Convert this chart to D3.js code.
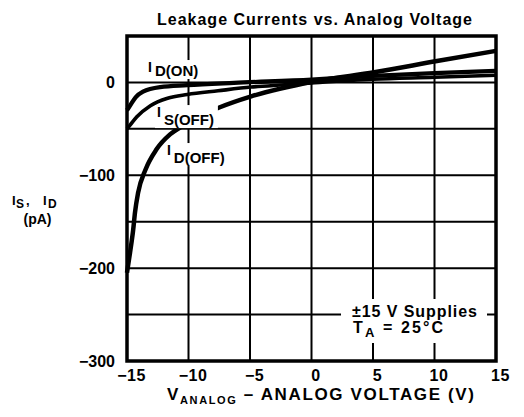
<!DOCTYPE html>
<html>
<head>
<meta charset="utf-8">
<script src="https://cdn.jsdelivr.net/npm/d3@7"></script>
<style>
  html, body { margin: 0; padding: 0; background: #fff; }
  svg { display: block; }
  text { font-family: "Liberation Sans", Arial, Helvetica, sans-serif; font-weight: bold; fill: #000; }
</style>
</head>
<body>
<svg id="chart" width="524" height="417"></svg>
<script>
// ---- data ----
const xTicks = [-15, -10, -5, 0, 5, 10, 15];
const yTicks = [-300, -200, -100, 0];
const yGrid = [-250, -200, -150, -100, -50, 0];

const idOnV  = [-15, -14.75, -14.3, -13.7, -12.3, -10.1, -6.3, 0, 5, 10, 15];
const idOnI  = [-30, -25, -16, -10, -5, -3, -0.5, 3, 7, 10, 12.5];

const isOffV = [-15, -14.75, -14.2, -13.1, -11.7, -10.1, -7.6, -4.9, -2.2, 0, 5, 10, 15];
const isOffI = [-50, -46, -37, -25, -17, -13, -9, -5, -2.5, -0.5, 3.5, 5.5, 7.8];

const idOffV = [-15, -14.75, -14.5, -14.35, -14.1, -13.5, -12.6, -11.5, -10.5, -9, -7.5, -4.9, 0.2, 5.1, 10.2, 15];
const idOffI = [-205, -183, -159, -140, -119, -94, -72, -56, -47, -36, -27, -15, 1, 11, 23, 34];

const curveLabels = [
  { x: -13.29, y: 11.2,  main: "I", sub: "D(ON)",  dy: 4 },
  { x: -12.56, y: -37.3, main: "I", sub: "S(OFF)", dy: 8 },
  { x: -11.75, y: -78.2, main: "I", sub: "D(OFF)", dy: 8 }
];

(function () {
const svg = d3.select("#chart");
const pl = 127, pr = 496, pt = 36, pb = 361;
const x = d3.scaleLinear().domain([-15, 15]).range([pl, pr]);
const y = d3.scaleLinear().domain([-300, 50]).range([pb, pt]);

// grid
const grid = svg.append("g");
grid.selectAll("line.v").data(xTicks.slice(1, -1)).join("line").attr("class", "v")
  .attr("x1", d => x(d)).attr("x2", d => x(d))
  .attr("y1", pt).attr("y2", pb)
  .attr("stroke", "#000").attr("stroke-width", 2);
grid.selectAll("line.h").data(yGrid).join("line").attr("class", "h")
  .attr("x1", pl).attr("x2", pr)
  .attr("y1", d => y(d)).attr("y2", d => y(d))
  .attr("stroke", "#000").attr("stroke-width", 2);

// curves
const line = d3.line().x(d => x(d[0])).y(d => y(d[1])).curve(d3.curveMonotoneX);
const zip = (a, b) => a.map((v, i) => [v, b[i]]);
const curves = [
  { v: idOnV, i: idOnI, w: 4.3 },
  { v: isOffV, i: isOffI, w: 3.6 },
  { v: idOffV, i: idOffI, w: 4.5 }
];
svg.append("g").selectAll("path").data(curves).join("path")
  .attr("d", d => line(zip(d.v, d.i)))
  .attr("fill", "none").attr("stroke", "#000")
  .attr("stroke-width", d => d.w).attr("stroke-linecap", "butt");

// curve labels with white background
const labels = svg.append("g");
curveLabels.forEach(d => {
  const g = labels.append("g");
  const bg = g.append("rect").attr("fill", "#fff");
  const t = g.append("text").attr("x", x(d.x)).attr("y", y(d.y)).style("font-size", "14px");
  t.append("tspan").text(d.main);
  t.append("tspan").attr("dx", 3).attr("dy", d.dy).style("font-size", "15px").text(d.sub);
  const bb = t.node().getBBox();
  bg.attr("x", bb.x - 2).attr("y", bb.y + 1).attr("width", bb.width + 6).attr("height", bb.height - 1);
});

// annotation box
const ann = svg.append("g");
ann.append("rect").attr("fill", "#fff").attr("x", 341).attr("y", 299).attr("width", 146).attr("height", 44);
ann.append("text").attr("x", 352).attr("y", 317).style("font-size", "16px")
  .attr("textLength", 125).attr("lengthAdjust", "spacing").text("±15 V Supplies");
const ta = ann.append("text").attr("x", 353).attr("y", 333).style("font-size", "16px")
  .attr("textLength", 90).attr("lengthAdjust", "spacing");
ta.append("tspan").text("T");
ta.append("tspan").attr("dy", 4).style("font-size", "13px").text("A");
ta.append("tspan").attr("dy", -4).text(" = 25°C");

// frame
svg.append("rect").attr("x", pl).attr("y", pt)
  .attr("width", pr - pl).attr("height", pb - pt)
  .attr("fill", "none").attr("stroke", "#000").attr("stroke-width", 3.5);

// axes tick labels
const fmt = d3.format("d");
const xAxis = d3.axisBottom(x).tickValues(xTicks).tickSize(0).tickPadding(9).tickFormat(fmt);
const gx = svg.append("g").attr("transform", `translate(4,${pb})`).call(xAxis);
gx.select(".domain").remove();
gx.attr("font-family", null).attr("font-size", null);
gx.selectAll("text").style("font-size", "16px").style("letter-spacing", "0.5px").attr("fill", "#000");

const yAxis = d3.axisLeft(y).tickValues(yTicks).tickSize(0).tickPadding(12).tickFormat(fmt);
const gy = svg.append("g").attr("transform", `translate(${pl},0)`).call(yAxis);
gy.select(".domain").remove();
gy.attr("font-family", null).attr("font-size", null);
gy.selectAll("text").style("font-size", "16px").attr("fill", "#000");

// title
svg.append("text").attr("x", 157).attr("y", 25)
  .style("font-size", "16px").attr("textLength", 315).attr("lengthAdjust", "spacing")
  .text("Leakage Currents vs. Analog Voltage");

// x axis title
const xt = svg.append("text").attr("x", 167).attr("y", 400).style("font-size", "17px")
  .attr("textLength", 307).attr("lengthAdjust", "spacing");
xt.append("tspan").text("V");
xt.append("tspan").attr("dy", 4).style("font-size", "11px").text("ANALOG");
xt.append("tspan").attr("dy", -4).text(" – ANALOG VOLTAGE (V)");

// y axis title
const yt = svg.append("text").style("font-size", "13px");
yt.append("tspan").attr("x", 12).attr("y", 205).text("I");
yt.append("tspan").attr("x", 16).attr("y", 208).style("font-size", "12px").text("S");
yt.append("tspan").attr("x", 26).attr("y", 205).text(",");
yt.append("tspan").attr("x", 43).attr("y", 205).text("I");
yt.append("tspan").attr("x", 48).attr("y", 208).style("font-size", "12px").text("D");
svg.append("text").attr("x", 37.5).attr("y", 224).attr("text-anchor", "middle").style("font-size", "14px").text("(pA)");
})();
</script>
</body>
</html>
